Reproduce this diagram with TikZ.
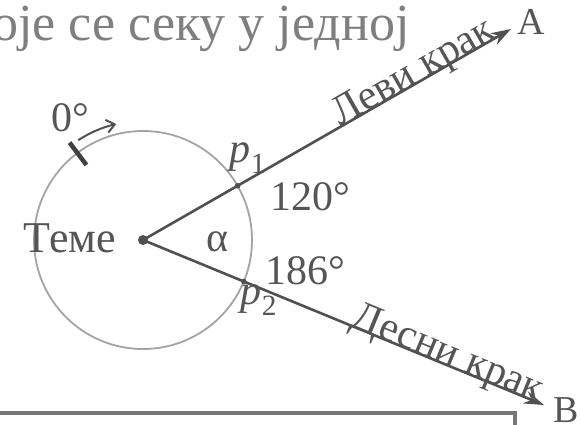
\documentclass[tikz,border=0pt]{standalone}
\usepackage{fontspec}
\setmainfont{Liberation Serif}
\newfontfamily\headfont{Liberation Serif}
\usetikzlibrary{arrows.meta, positioning, calc}
\definecolor{armGray}{HTML}{505050}
\definecolor{ringGray}{HTML}{A4A4A4}
\definecolor{labelGray}{HTML}{555555}
\definecolor{headGray}{HTML}{7F7F7F}
\definecolor{boxGray}{HTML}{777777}

\begin{document}
\begin{tikzpicture}[x=1pt, y=-1pt,
  arm/.style={armGray, line width=2.6pt, -{Stealth[length=20pt, width=13pt]}},
  lbl/.style={labelGray, font=\fontsize{42}{42}\selectfont, inner sep=0pt},
  crossdot/.style={armGray}]
  \useasboundingbox (0,0) rectangle (581,424);
  \clip (0,0) rectangle (581,424);

  % heading text, cut at the left
  \node[headGray, font=\headfont\fontsize{52}{52}\selectfont, anchor=base west, inner sep=0pt] (head) at (-8,40) {оје се секу у једној};

  % vertex and circle
  \node[circle, fill=armGray, inner sep=0pt, minimum size=10pt] (V) at (143,240) {};
  \draw[ringGray, line width=1.8pt] (V.center) circle[radius=109pt];

  % arms
  \coordinate (tipA) at (511,29);
  \coordinate (tipB) at (544,405);
  \draw[arm] (V.center) -- (tipA) node[lbl, sloped, anchor=base, pos=0.75] (armA) {Леви крак};
  \draw[arm] (V.center) -- (tipB) node[lbl, sloped, anchor=base, pos=0.75] (armB) {Десни крак};
  \coordinate (P1) at ($(V.center)!109pt!(tipA)$);
  \coordinate (P2) at ($(V.center)!109pt!(tipB)$);
  \fill[crossdot] (P1) circle[radius=2.8pt];
  \fill[crossdot] (P2) circle[radius=2.8pt];

  % zero mark and direction
  \draw[armGray!80!black, line width=4.5pt] ($(V.center)+(127:94pt)$) -- ($(V.center)+(127:122pt)$);
  \draw[armGray, line width=2pt, -{Straight Barb[length=8pt, width=13pt]}] ($(V.center)+(123:119pt)$) arc[start angle=123, end angle=103, radius=119pt];

  % labels
  \node[lbl] (deg0) at (70,118) {0°};
  \node[lbl] (p1) at (248,158) {\textit{p}\textsubscript{1}};
  \node[lbl] (ang1) at (310,197) {120°};
  \node[lbl] (alpha) at (217,242) {α};
  \node[lbl, font=\fontsize{44}{44}\selectfont] (teme) at (70,238) {Теме};
  \node[lbl] (ang2) at (305,271) {186°};
  \node[lbl] (p2) at (259,300) {\textit{p}\textsubscript{2}};
  \node[lbl, font=\fontsize{38}{38}\selectfont] (A) at (531,22) {A};
  \node[lbl, font=\fontsize{38}{38}\selectfont] (B) at (566,410) {B};

  % box below
  \draw[boxGray, line width=4pt] (-20,520) rectangle (515,413);
\end{tikzpicture}
\end{document}
